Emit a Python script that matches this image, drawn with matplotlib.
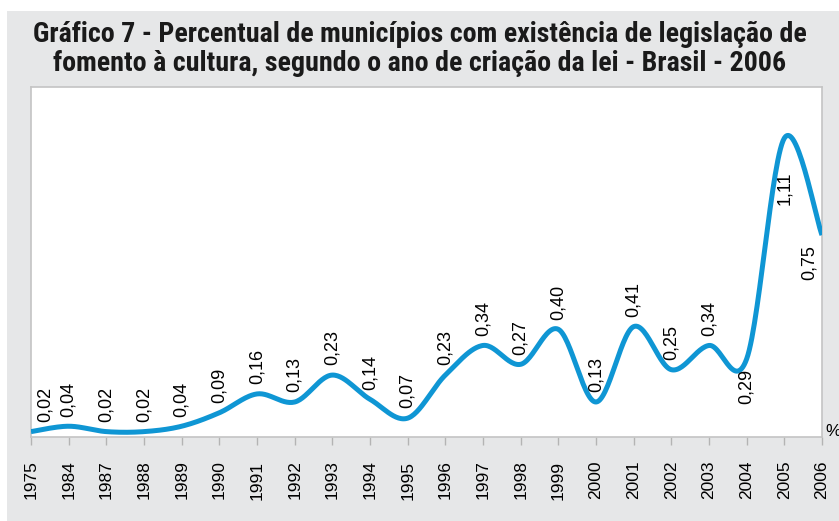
import matplotlib.pyplot as plt
from matplotlib import font_manager
import numpy as np

years = ['1975', '1984', '1987', '1988', '1989', '1990', '1991', '1992', '1993', '1994', '1995',
         '1996', '1997', '1998', '1999', '2000', '2001', '2002', '2003', '2004', '2005', '2006']
values = [0.02, 0.04, 0.02, 0.02, 0.04, 0.09, 0.16, 0.13, 0.23, 0.14, 0.07,
          0.23, 0.34, 0.27, 0.40, 0.13, 0.41, 0.25, 0.34, 0.29, 1.11, 0.75]
labels = ['0,02', '0,04', '0,02', '0,02', '0,04', '0,09', '0,16', '0,13', '0,23', '0,14', '0,07',
          '0,23', '0,34', '0,27', '0,40', '0,13', '0,41', '0,25', '0,34', '0,29', '1,11', '0,75']
# labels drawn under the point instead of over it
below = ['2004', '2005', '2006']

title_lines = ['Gráfico 7 - Percentual de municípios com existência de legislação de',
               'fomento à cultura, segundo o ano de criação da lei - Brasil - 2006']

blue = '#0f96d4'
bg = '#e6e7e8'

# pick the plain regular Liberation Sans file (not the narrow cut) for the small texts
installed = font_manager.fontManager.ttflist
regular = None
for f in installed:
    if f.name == 'Liberation Sans' and f.style == 'normal' and f.weight in (400, 'normal') \
            and 'Narrow' not in f.fname:
        regular = f.fname
        break


def small_font(size):
    if regular:
        return font_manager.FontProperties(fname=regular, size=size)
    return font_manager.FontProperties(family='DejaVu Sans', size=size)


# narrow bold face for the title if one is installed
names = {f.name for f in installed}
title_font = ['Liberation Sans', 'DejaVu Sans']
for cand in ['Liberation Sans Narrow', 'Roboto Condensed', 'Open Sans Condensed']:
    if cand in names:
        title_font = [cand, 'DejaVu Sans']
        break


def smooth(x, y, n=30):
    # catmull-rom curve through the points, like the spreadsheet "smoothed line"
    px = np.concatenate([[x[0]], x, [x[-1]]])
    py = np.concatenate([[y[0]], y, [y[-1]]])
    xs, ys = [], []
    t = np.linspace(0, 1, n)
    for i in range(1, len(px) - 2):
        for p, out in ((px, xs), (py, ys)):
            p0, p1, p2, p3 = p[i - 1], p[i], p[i + 1], p[i + 2]
            c1 = p1 + (p2 - p0) / 6
            c2 = p2 - (p3 - p1) / 6
            out.extend((1 - t)**3 * p1 + 3 * (1 - t)**2 * t * c1 + 3 * (1 - t) * t**2 * c2 + t**3 * p2)
    return np.array(xs), np.array(ys)


fig = plt.figure(figsize=(8.39, 5.21), dpi=100)
fig.patch.set_facecolor('white')
# grey panel, with a thin white margin on the top and left
panel = plt.Rectangle((7 / 839, 0), 1, (521 - 11) / 521, transform=fig.transFigure,
                      facecolor=bg, edgecolor='none', zorder=-5)
fig.add_artist(panel)

ax = fig.add_axes([31 / 839, (521 - 437) / 521, (822 - 31) / 839, (437 - 87) / 521])
ax.set_zorder(2)
ax.set_facecolor('white')

x = np.arange(len(years))
sx, sy = smooth(x.astype(float), np.array(values))
ax.plot(sx, sy, color=blue, linewidth=3.6, solid_capstyle='butt', zorder=3)

for i, (yr, v, lab) in enumerate(zip(years, values, labels)):
    dx = 0
    if i == 0:
        dx = 10
    elif i == len(years) - 1:
        dx = -9
    if yr in below:
        dy = -7 if yr != '2005' else -24
        va = 'top'
    else:
        dy = 7
        va = 'bottom'
    ax.annotate(lab, (i, v), xytext=(dx, dy), textcoords='offset points', rotation=90,
                ha='center', va=va, fontproperties=small_font(13))

ax.set_xlim(0, len(years) - 1)
ax.set_ylim(0, 1.30)
ax.set_yticks([])
ax.set_xticks(x)
ax.set_xticklabels(years, rotation=90, fontproperties=small_font(12.5))
ax.tick_params(axis='x', direction='out', length=6, width=1, color='#b4b4b4', pad=11)
for s in ax.spines.values():
    s.set_color('#c4c4c4')
    s.set_linewidth(1.2)

fig.text(825 / 839, (521 - 432) / 521, '%', ha='left', va='center',
         fontproperties=small_font(12.5))

# two title lines on their own baselines
t1 = fig.text(0.5, (521 - 42) / 521, title_lines[0], ha='center', va='baseline', fontsize=17,
              fontweight='bold', family=title_font, color='#1a1a1a')
t2 = fig.text(0.5, (521 - 71) / 521, title_lines[1], ha='center', va='baseline', fontsize=17,
              fontweight='bold', family=title_font, color='#1a1a1a')

# scale the title so line one spans about the reference width (777 px)
r = fig.canvas.get_renderer()
size = 17 * 777 / t1.get_window_extent(r).width
t1.set_fontsize(size)
t2.set_fontsize(size)

fig.savefig('out.png', dpi=100)
